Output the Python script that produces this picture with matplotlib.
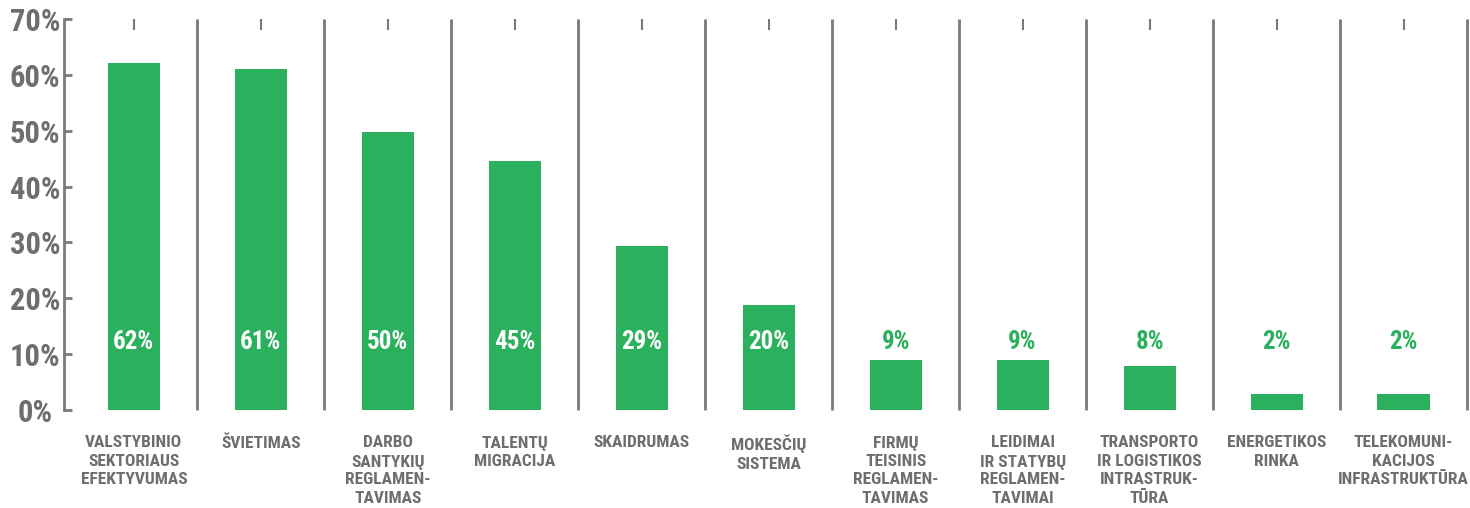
import matplotlib
matplotlib.use("Agg")
import matplotlib.pyplot as plt
from matplotlib import font_manager

# data
categories = [
    "VALSTYBINIO\nSEKTORIAUS\nEFEKTYVUMAS",
    "ŠVIETIMAS",
    "DARBO\nSANTYKIŲ\nREGLAMEN-\nTAVIMAS",
    "TALENTŲ\nMIGRACIJA",
    "SKAIDRUMAS",
    "MOKESČIŲ\nSISTEMA",
    "FIRMŲ\nTEISINIS\nREGLAMEN-\nTAVIMAS",
    "LEIDIMAI\nIR STATYBŲ\nREGLAMEN-\nTAVIMAI",
    "TRANSPORTO\nIR LOGISTIKOS\nINTRASTRUK-\nTŪRA",
    "ENERGETIKOS\nRINKA",
    "TELEKOMUNI-\nKACIJOS\nINFRASTRUKTŪRA",
]
heights = [62.2, 61.0, 49.8, 44.5, 29.3, 18.8, 9.0, 9.0, 7.9, 2.9, 2.9]
value_labels = ["62%", "61%", "50%", "45%", "29%", "20%", "9%", "9%", "8%", "2%", "2%"]
yticks = [0, 10, 20, 30, 40, 50, 60, 70]
ytick_labels = ["0%", "10%", "20%", "30%", "40%", "50%", "60%", "70%"]

GREEN = "#2bb05d"
GRAY = "#6e6e6e"
LINE = "#7a7a7a"

# pick a narrow font if one is around
installed = {f.name for f in font_manager.fontManager.ttflist}
family = "DejaVu Sans"
for cand in ["Liberation Sans Narrow", "Roboto Condensed", "Open Sans Condensed", "Roboto"]:
    if cand in installed:
        family = cand
        break
plt.rcParams["font.family"] = [family, "DejaVu Sans"]

fig = plt.figure(figsize=(14.7, 5.08), dpi=100)
ax = fig.add_axes([64 / 1470, 98 / 508, 1403 / 1470, 391 / 508])

x = list(range(len(categories)))
ax.bar(x, heights, width=0.41, color=GREEN, zorder=2)

# value labels: white inside tall bars, green above short ones
for i, (h, lab) in enumerate(zip(heights, value_labels)):
    c = "white" if h > 15 else GREEN
    ax.text(i, 12.2, lab, ha="center", va="center", color=c,
            fontsize=18, fontweight="bold", zorder=3)

# vertical separators between categories
for i in x:
    ax.plot([i + 0.5, i + 0.5], [0, 70], color=LINE, lw=2, zorder=1,
            solid_capstyle="butt", clip_on=False)

ax.set_xlim(-0.55, 10.5)
ax.set_ylim(0, 70)

for s in ["top", "right", "bottom"]:
    ax.spines[s].set_visible(False)
ax.spines["left"].set_color(LINE)
ax.spines["left"].set_linewidth(2)

ax.set_yticks(yticks)
ax.set_yticklabels(ytick_labels)
ax.tick_params(axis="y", direction="in", length=6, width=2, color=LINE,
               labelsize=22, labelcolor=GRAY, pad=21)
for t in ax.get_yticklabels():
    t.set_fontweight("bold")
    t.set_horizontalalignment("center")

ax.set_xticks(x)
ax.set_xticklabels(categories)
ax.tick_params(axis="x", bottom=False, top=True, direction="in", length=8,
               width=1.5, color=LINE, labelsize=12.5, labelcolor=GRAY, pad=18)
for t in ax.get_xticklabels():
    t.set_fontweight("bold")
    t.set_verticalalignment("top")
    t.set_multialignment("center")
    t.set_linespacing(1.3)

fig.savefig("out.png", dpi=100, facecolor="white")
